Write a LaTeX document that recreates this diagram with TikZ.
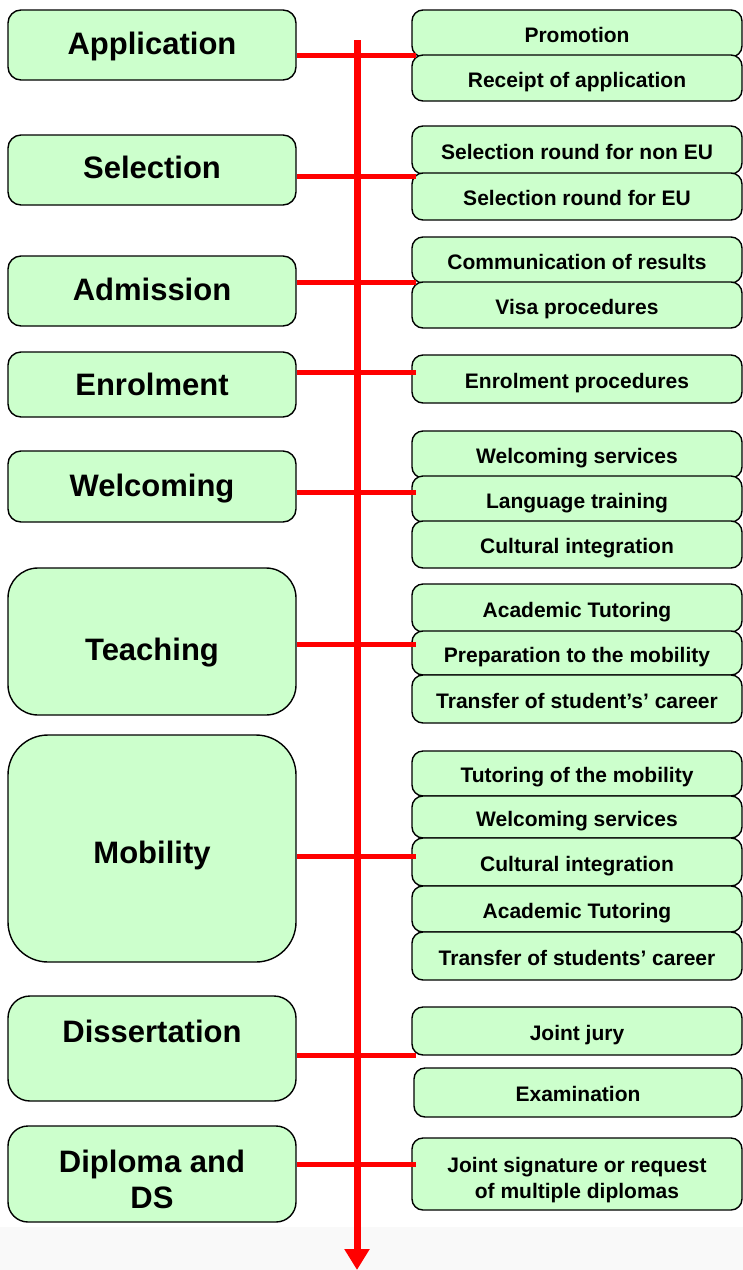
\documentclass[tikz,border=0pt]{standalone}
\usepackage{fontspec}
\setmainfont{Liberation Sans}
\usetikzlibrary{arrows.meta}
\definecolor{boxgreen}{HTML}{CCFFCC}
\definecolor{linered}{HTML}{FF0000}
\definecolor{bggray}{HTML}{F9F9F9}
\begin{document}
\begin{tikzpicture}[x=1pt,y=-1pt,
  lbox/.style={draw=black, line width=1.4pt, fill=boxgreen, rounded corners=13pt,
    minimum width=288pt, inner sep=0pt, align=center, text height=18pt, text depth=0pt,
    font=\fontsize{31}{36}\selectfont\bfseries},
  rbox/.style={draw=black, line width=1.4pt, fill=boxgreen, rounded corners=11pt,
    minimum width=330pt, inner sep=0pt, align=center, text height=18pt, text depth=0pt,
    font=\fontsize{21}{26}\selectfont\bfseries},
  conn/.style={draw=linered, line width=5pt, shorten >=-5pt},
  spine/.style={draw=linered, line width=7pt, -{Triangle[width=24pt,length=21pt]}}]
\useasboundingbox (0,0) rectangle (743,1270);
\fill[white] (0,0) rectangle (743,1227);
\fill[bggray] (0,1227) rectangle (743,1270);

% left stage boxes
\node[lbox, minimum height=70pt] (app) at (152,45) {Application};
\node[lbox, minimum height=70pt, text height=16pt] (sel) at (152,170) {Selection};
\node[lbox, minimum height=70pt] (adm) at (152,291) {Admission};
\node[lbox, minimum height=65pt, text height=22pt] (enr) at (152,384.5) {Enrolment};
\node[lbox, minimum height=71pt, text height=19pt] (wel) at (152,486.5) {Welcoming};
\node[lbox, minimum height=147pt, rounded corners=30pt, text height=37pt] (tea) at (152,641.5) {Teaching};
\node[lbox, minimum height=227pt, rounded corners=40pt, text height=30pt] (mob) at (152,848.5) {Mobility};
\node[lbox, minimum height=105pt, rounded corners=22pt, text height=22pt, text depth=35pt] (dis) at (152,1048.5) {Dissertation};
\node[lbox, minimum height=96pt, rounded corners=20pt, text height=68pt] (dip) at (152,1174) {Diploma and\\DS};

% right activity boxes
\node[rbox, minimum height=47pt] (promo) at (577,33.5) {Promotion};
\node[rbox, minimum height=46pt] (rec) at (577,78) {Receipt of application};
\node[rbox, minimum height=48pt] (noneu) at (577,150) {Selection round for non EU};
\node[rbox, minimum height=47pt] (eu) at (577,196.5) {Selection round for EU};
\node[rbox, minimum height=46pt] (comm) at (577,260) {Communication of results};
\node[rbox, minimum height=46pt] (visa) at (577,305) {Visa procedures};
\node[rbox, minimum height=48pt] (enrp) at (577,379) {Enrolment procedures};
\node[rbox, minimum height=47pt] (wsa) at (577,454.5) {Welcoming services};
\node[rbox, minimum height=46pt] (lang) at (577,499) {Language training};
\node[rbox, minimum height=47pt] (cia) at (577,544.5) {Cultural integration};
\node[rbox, minimum height=48pt] (ata) at (577,608) {Academic Tutoring};
\node[rbox, minimum height=44pt] (prep) at (577,653) {Preparation to the mobility};
\node[rbox, minimum height=48pt] (tra) at (577,699) {Transfer of student’s’ career};
\node[rbox, minimum height=45pt] (tm) at (577,773.5) {Tutoring of the mobility};
\node[rbox, minimum height=42pt] (wsb) at (577,817) {Welcoming services};
\node[rbox, minimum height=48pt] (cib) at (577,862) {Cultural integration};
\node[rbox, minimum height=46pt] (atb) at (577,909) {Academic Tutoring};
\node[rbox, minimum height=48pt] (trb) at (577,956) {Transfer of students’ career};
\node[rbox, minimum height=48pt] (jj) at (577,1031) {Joint jury};
\node[rbox, minimum height=49pt, minimum width=328pt] (exam) at (578,1092.5) {Examination};
\node[rbox, minimum height=72pt, text height=48pt] (js) at (577,1174) {Joint signature or request\\of multiple diplomas};

% timeline spine
\coordinate (top) at (357,40);
\coordinate (bot) at (357,1270);
\draw[spine] (top) -- (bot);

% branch connectors
\coordinate (c1) at ([yshift=-10pt]app.east);
\coordinate (c2) at ([yshift=-6pt]sel.east);
\coordinate (c3) at ([yshift=9pt]adm.east);
\coordinate (c4) at ([yshift=12.5pt]enr.east);
\coordinate (c5) at ([yshift=-5.5pt]wel.east);
\coordinate (c6) at ([yshift=-2.5pt]tea.east);
\coordinate (c7) at ([yshift=-7.5pt]mob.east);
\coordinate (c8) at ([yshift=-6.5pt]dis.east);
\coordinate (c9) at ([yshift=10pt]dip.east);
\draw[conn] (c1) -- (c1 -| rec.west);
\draw[conn] (c2) -- (c2 -| eu.west);
\draw[conn] (c3) -- (c3 -| visa.west);
\draw[conn] (c4) -- (c4 -| enrp.west);
\draw[conn] (c5) -- (c5 -| lang.west);
\draw[conn] (c6) -- (c6 -| prep.west);
\draw[conn] (c7) -- (c7 -| cib.west);
\draw[conn] (c8) -- (c8 -| jj.west);
\draw[conn] (c9) -- (c9 -| js.west);
\end{tikzpicture}
\end{document}
